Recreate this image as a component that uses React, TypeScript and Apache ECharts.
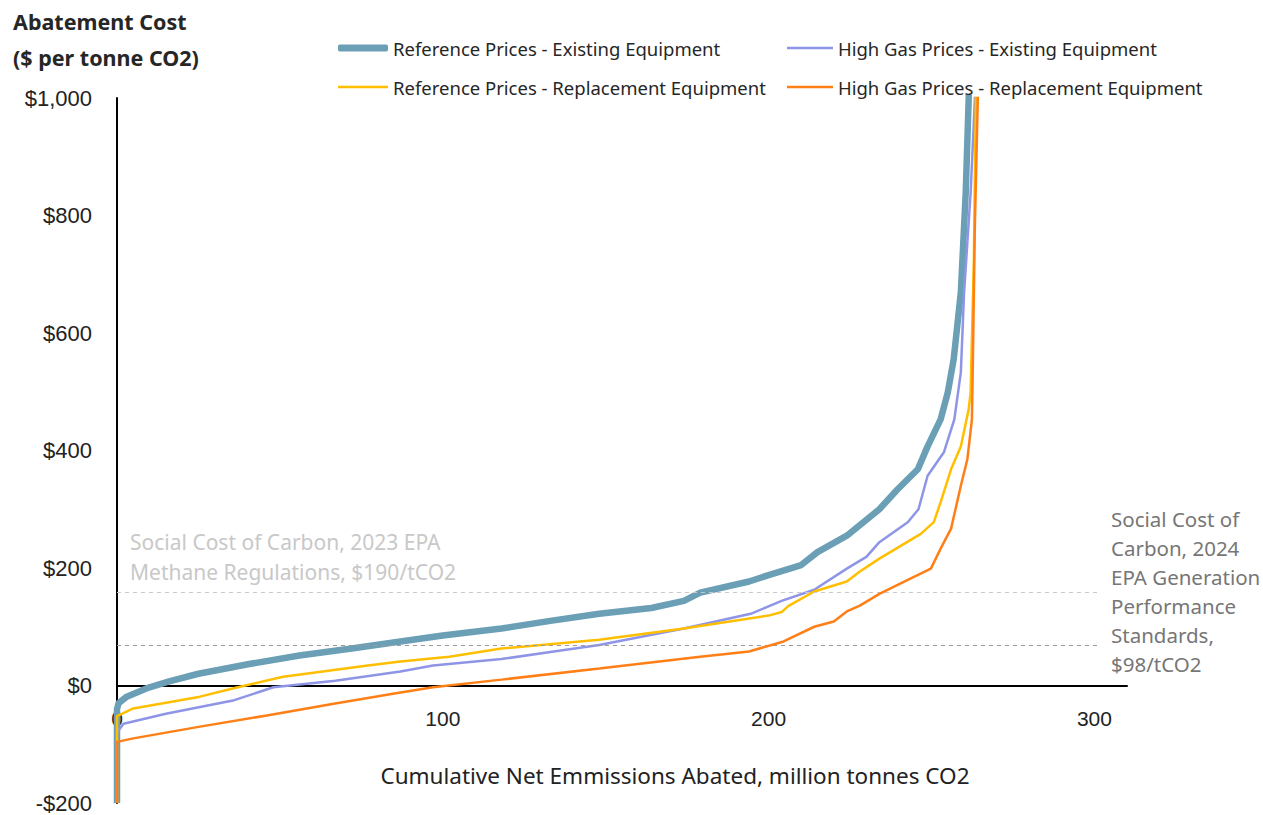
import React, { useEffect, useRef } from "react";
import * as echarts from "echarts";

// ---- Data ----
const refExistingX = [0, 0, 0.5, 3, 9, 16, 25, 41, 56, 72, 87, 100, 118, 133, 148, 164, 174, 179, 194, 200, 210, 215, 224, 234, 239.6, 245.8, 248.8, 252.8, 255, 256.8, 259, 260.5, 261.4, 262.5];
const refExistingY = [-200, -40, -30, -19, -5, 7, 20, 37, 51, 63, 75, 85, 97, 110, 122, 132, 144, 158, 177, 188, 205, 227, 255, 300, 334, 368, 407, 453, 499, 555, 669, 839, 997, 1300];

const highExistingX = [0, 0, 2, 15, 36, 48, 67, 87, 97, 118, 133, 148, 174, 194.5, 204, 214, 224, 230, 234, 242.7, 246, 248.8, 253.8, 257, 259, 260, 262, 263.3, 264.5];
const highExistingY = [-200, -80, -65, -48, -25, -3, 8, 24, 34, 45, 57, 69, 97, 122, 144, 163, 199, 219, 244, 278, 300, 357, 397, 453, 533, 669, 839, 997, 1300];

const refReplacementX = [0, 0, 5, 25.5, 35.5, 51, 77, 87, 102, 118, 148, 174, 200, 204, 206, 214, 224, 228, 234, 246.7, 250.7, 252.8, 256, 259, 261.4, 262, 263, 263.6, 264.6];
const refReplacementY = [-200, -52, -39, -19, -5, 15, 34, 41, 49, 63, 78, 97, 119, 125, 135, 160, 177, 194, 216, 258, 278, 312, 368, 407, 470, 499, 725, 997, 1300];

const highReplacementX = [0, 0, 5, 25.5, 46, 66.5, 87, 97, 118, 148, 179, 194, 204.6, 214, 220, 224, 228, 234, 244.6, 249.8, 252.8, 256, 259, 261, 262.4, 262.7, 263.3, 264.2, 265.2];
const highReplacementY = [-200, -96, -90, -70, -51, -31, -12, -3, 10, 29, 49, 58, 75, 100, 109, 126, 136, 156, 185, 199, 233, 267, 340, 385, 453, 555, 781, 997, 1300];

const seriesNames = [
  "Reference Prices - Existing Equipment",
  "High Gas Prices - Existing Equipment",
  "Reference Prices - Replacement Equipment",
  "High Gas Prices - Replacement Equipment",
];

const xTicks = [0, 100, 200, 300];
const yTicks = [-200, 0, 200, 400, 600, 800, 1000];

const scc2023Value = 158; // dashed line position as drawn
const scc2024Value = 68; // dashed line position as drawn

const zip = (xs: number[], ys: number[]) => xs.map((x, i) => [x, ys[i]]);

export default function App() {
  const ref = useRef<HTMLDivElement>(null);

  useEffect(() => {
    document.body.style.margin = "0";
    if (!ref.current) return;
    const chart = echarts.init(ref.current, undefined, { renderer: "svg" });

    const uiFont = "Noto Sans";
    const tickFont = "Liberation Sans";

    const gridTop = 98;
    const gridBottom = 12;
    const gridHeight = 815 - gridTop - gridBottom;
    const yMin = yTicks[0];
    const yMax = yTicks[yTicks.length - 1];
    const zeroOffset = (gridHeight * (0 - yMin)) / (yMax - yMin);

    const fmtY = (v: number) => {
      const abs = Math.abs(v).toLocaleString("en-US");
      return (v < 0 ? "-$" : "$") + abs;
    };

    const legendText = { fontFamily: uiFont, fontSize: 18.5, color: "#262626", lineHeight: 20 };
    const mkLegend = (name: string, left: number, top: number, w: number, h: number, icon: string) => ({
      orient: "horizontal",
      left,
      top,
      padding: 0,
      itemWidth: w,
      itemHeight: h,
      icon,
      textStyle: legendText,
      data: [name],
    });

    const option: any = {
      animation: false,
      backgroundColor: "#ffffff",
      grid: {
        left: 117,
        top: gridTop,
        width: 1010,
        bottom: gridBottom,
        containLabel: false,
        outerBoundsMode: "none",
      },
      legend: [
        mkLegend(seriesNames[0], 338, 38, 50, 7, "roundRect"),
        mkLegend(seriesNames[2], 338, 77, 50, 2.5, "rect"),
        mkLegend(seriesNames[1], 787, 38, 46, 2.5, "rect"),
        mkLegend(seriesNames[3], 787, 77, 46, 2.5, "rect"),
      ],
      xAxis: {
        type: "value",
        min: 0,
        max: 310,
        interval: 100,
        offset: -zeroOffset,
        axisLine: { show: true, onZero: false, lineStyle: { color: "#000", width: 2 } },
        axisTick: { show: false },
        splitLine: { show: false },
        axisLabel: {
          margin: 22,
          fontFamily: tickFont,
          fontSize: 21,
          color: "#222",
          formatter: (v: number) => (xTicks.includes(v) ? String(v) : ""),
        },
      },
      yAxis: {
        type: "value",
        min: yMin,
        max: yMax,
        interval: 200,
        axisLine: { show: true, lineStyle: { color: "#000", width: 2 } },
        axisTick: { show: false },
        splitLine: { show: false },
        axisLabel: {
          margin: 25,
          fontFamily: tickFont,
          fontSize: 22,
          lineHeight: 22,
          color: "#222",
          formatter: fmtY,
        },
      },
      series: [
        {
          name: "refs",
          type: "line",
          data: [],
          silent: true,
          markLine: {
            silent: true,
            symbol: "none",
            label: { show: false },
            data: [
              [
                { coord: [0, scc2023Value], lineStyle: { color: "#c8c8c8", type: [4, 4], width: 1.2 } },
                { coord: [302, scc2023Value] },
              ],
              [
                { coord: [0, scc2024Value], lineStyle: { color: "#9a9a9a", type: [4, 4], width: 1.2 } },
                { coord: [302, scc2024Value] },
              ],
            ],
          },
        },
        {
          name: seriesNames[0],
          type: "line",
          data: zip(refExistingX, refExistingY),
          showSymbol: false,
          symbol: "none",
          lineStyle: { color: "#6a9fb5", width: 6.5 },
          itemStyle: { color: "#6a9fb5" },
          z: 2,
        },
        {
          name: seriesNames[1],
          type: "line",
          data: zip(highExistingX, highExistingY),
          showSymbol: false,
          symbol: "none",
          lineStyle: { color: "#8e95e6", width: 2.5 },
          itemStyle: { color: "#8e95e6" },
          z: 3,
        },
        {
          name: seriesNames[2],
          type: "line",
          data: zip(refReplacementX, refReplacementY),
          showSymbol: false,
          symbol: "none",
          lineStyle: { color: "#ffbf00", width: 2.5 },
          itemStyle: { color: "#ffbf00" },
          z: 4,
        },
        {
          name: seriesNames[3],
          type: "line",
          data: zip(highReplacementX, highReplacementY),
          showSymbol: false,
          symbol: "none",
          lineStyle: { color: "#ff7f17", width: 2.5 },
          itemStyle: { color: "#ff7f17" },
          z: 5,
        },
      ],
      graphic: [
        {
          type: "text",
          left: 13,
          top: 3,
          style: {
            text: "Abatement Cost\n($ per tonne CO2)",
            font: `bold 21.5px ${uiFont}`,
            fill: "#262626",
            lineHeight: 36,
          },
        },
        {
          type: "text",
          left: 130,
          top: 527,
          style: {
            text: "Social Cost of Carbon, 2023 EPA\nMethane Regulations, $190/tCO2",
            font: `21px ${uiFont}`,
            fill: "#c8c8c8",
            lineHeight: 30,
          },
        },
        {
          type: "text",
          left: 1111,
          top: 504,
          style: {
            text: "Social Cost of\nCarbon, 2024\nEPA Generation\nPerformance\nStandards,\n$98/tCO2",
            font: `20.5px ${uiFont}`,
            fill: "#767676",
            lineHeight: 29,
          },
        },
        {
          type: "text",
          x: 675,
          y: 775,
          style: {
            text: "Cumulative Net Emmissions Abated, million tonnes CO2",
            font: `22.5px ${uiFont}`,
            fill: "#222",
            align: "center",
            verticalAlign: "middle",
          },
        },
      ],
    };

    chart.setOption(option);
    return () => chart.dispose();
  }, []);

  return <div ref={ref} style={{ width: 1263, height: 815 }} />;
}
